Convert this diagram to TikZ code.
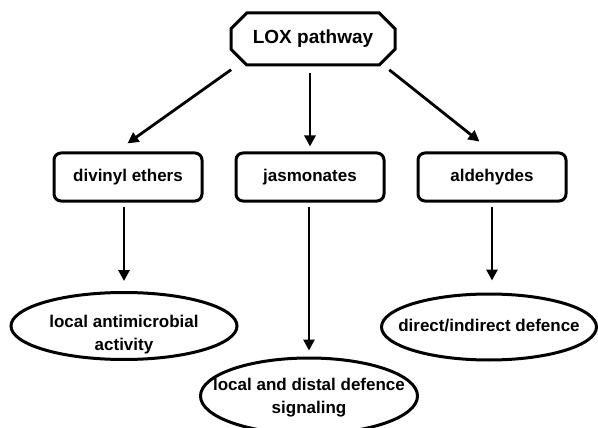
\documentclass[tikz,border=0pt]{standalone}
\usepackage{fontspec}
\setmainfont{Liberation Sans}
\usetikzlibrary{arrows.meta,shapes.misc,shapes.geometric,calc}

\begin{document}
\begin{tikzpicture}[x=1pt,y=-1pt,
    box/.style={draw,line width=3pt,rounded corners=7pt,minimum width=148pt,minimum height=48pt,font=\fontsize{17}{20}\selectfont\bfseries},
    oval/.style={draw,ellipse,line width=3pt,inner sep=0pt},
    txt/.style={align=center,inner sep=0pt,font=\fontsize{17}{23}\selectfont\bfseries},
    arr/.style={-{Triangle[length=11pt,width=11pt]},line width=2.8pt}]
    \useasboundingbox (0,0) rectangle (598,428);

    \node[draw,chamfered rectangle,chamfered rectangle xsep=14pt,line width=3pt,
        minimum width=164pt,minimum height=52pt,
        font=\fontsize{19}{22}\selectfont\bfseries] (lox) at (313,39) {LOX pathway};

    \node[box] (div) at (128,177) {divinyl ethers};
    \node[box] (jas) at (310,177) {jasmonates};
    \node[box] (ald) at (492,177) {aldehydes};

    \node[oval,minimum width=226pt,minimum height=67pt] (anti) at (124,326) {};
    \node[oval,minimum width=217pt,minimum height=76pt] (dist) at (309,396) {};
    \node[oval,minimum width=215pt,minimum height=66pt] (dir) at (489,327) {};

    \node[txt] (antitxt) at (124,335) {local antimicrobial\\activity};
    \node[txt] (disttxt) at (309,398) {local and distal defence\\signaling};
    \node[txt] (dirtxt) at (489,326) {direct/indirect defence};

    % from the pathway to the three classes
    \draw[arr,shorten <=13pt,shorten >=14pt] (lox.-162) -- (div.115);
    \draw[arr,shorten <=7pt,shorten >=5pt] (jas.north |- lox.south) -- (jas.north);
    \draw[arr,shorten <=9pt,shorten >=16pt] (lox.-20) -- (ald.north);

    % from each class to its role
    \draw[arr,shorten <=4pt,shorten >=10pt] (anti |- div.south) -- (anti.north);
    \draw[arr,shorten <=4pt,shorten >=6pt] (dist |- jas.south) -- (dist.north);
    \draw[arr,shorten <=4pt,shorten >=12pt] (ald.south) -- (ald.south |- dir.north);
\end{tikzpicture}
\end{document}
